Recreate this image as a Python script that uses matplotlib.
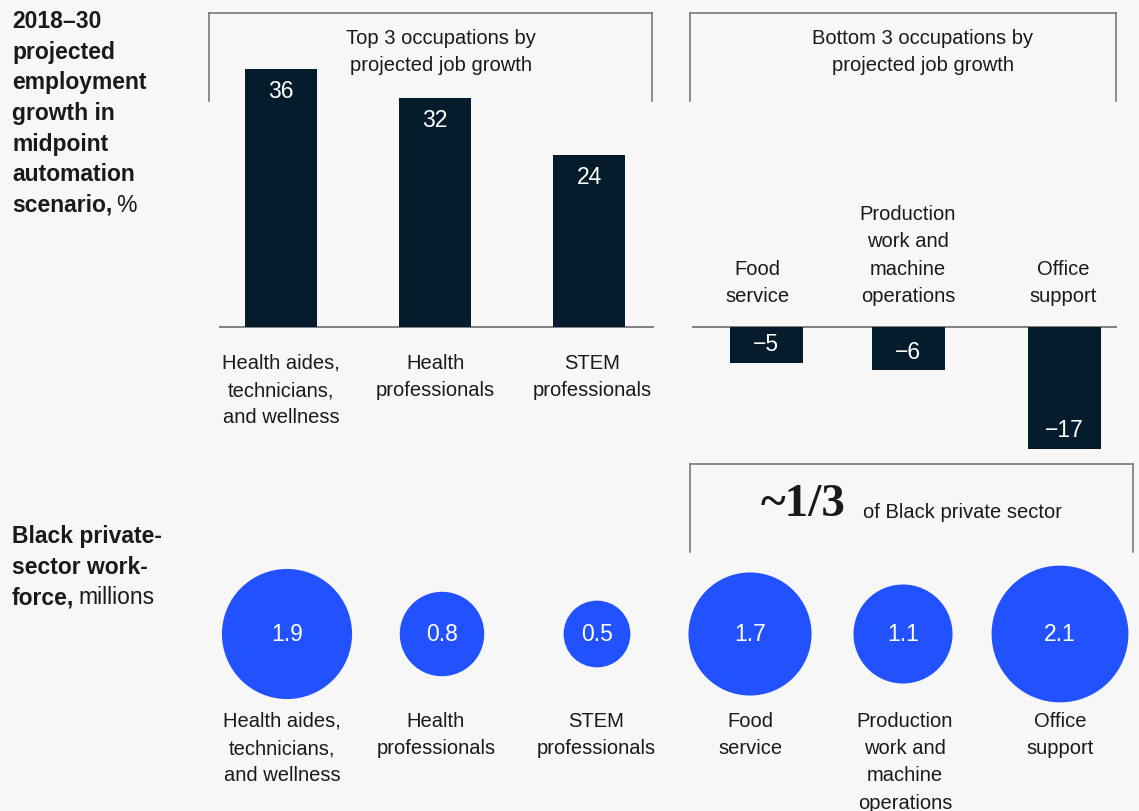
import matplotlib.pyplot as plt
from matplotlib.lines import Line2D

# growth 2018-30, %
top_cats = ['Health aides,\ntechnicians,\nand wellness', 'Health\nprofessionals', 'STEM\nprofessionals']
top_growth = [36, 32, 24]
bottom_cats = ['Food\nservice', 'Production\nwork and\nmachine\noperations', 'Office\nsupport']
bottom_growth = [-5, -6, -17]
# Black private-sector workforce, millions
all_cats = top_cats + bottom_cats
workforce = [1.9, 0.8, 0.5, 1.7, 1.1, 2.1]

W, H = 1139, 812
NAVY = '#051c2c'
BLUE = '#2251ff'
BG = '#f7f7f7'
TXT = '#1a1a1a'
GRID = '#6e6e6e'
LS = 1.55
FS = 14.5
NUM = 16.5

plt.rcParams['font.family'] = ['Liberation Sans', 'DejaVu Sans']

fig = plt.figure(figsize=(W / 100, H / 100), dpi=100, facecolor=BG)


def fx(x):
    return x / W


def fy(y):
    return 1 - y / H


def box(x0, y0, x1, y1):
    # open-bottom bracket
    for xs, ys in [([x0, x1], [y0, y0]), ([x0, x0], [y0, y1]), ([x1, x1], [y0, y1])]:
        fig.add_artist(Line2D([fx(v) for v in xs], [fy(v) for v in ys], color=GRID, lw=1.1))


# bar axes share one y scale: 7.17 px per point
PXU = 7.17
y_top, y_bot = 20, 460
zero_px = 328
ylim = (-(y_bot - zero_px) / PXU, (zero_px - y_top) / PXU)


def bar_axes(x0, x1):
    ax = fig.add_axes([fx(x0), fy(y_bot), (x1 - x0) / W, (y_bot - y_top) / H])
    ax.set_xlim(0, x1 - x0)
    ax.set_ylim(*ylim)
    ax.axis('off')
    ax.axhline(0, color=GRID, lw=1.2, zorder=1)
    return ax


ax1 = bar_axes(219, 654)
pos1 = [62, 216, 370]
lab1 = [62, 216, 373]
ax1.bar(pos1, top_growth, width=72, color=NAVY, zorder=2)
for x, lx, v, c in zip(pos1, lab1, top_growth, top_cats):
    ax1.text(x, v - 22 / PXU, f'{v}', color='white', ha='center', va='center', fontsize=NUM)
    ax1.text(lx, -26 / PXU, c, color=TXT, ha='center', va='top', fontsize=FS, linespacing=LS)

ax2 = bar_axes(692, 1117)
pos2 = [74, 216, 372]
lab2 = [65, 216, 371]
ax2.bar(pos2, bottom_growth, width=73, color=NAVY, zorder=2)
for x, lx, v, c in zip(pos2, lab2, bottom_growth, bottom_cats):
    ax2.text(x, v + 19 / PXU, f'\u2212{abs(v)}', color='white', ha='center', va='center', fontsize=NUM)
    ax2.text(lx, 22 / PXU, c, color=TXT, ha='center', va='bottom', fontsize=FS, linespacing=LS)

box(209, 14, 652, 102)
box(690, 14, 1116, 102)
fig.text(fx(441), fy(52), 'Top 3 occupations by\nprojected job growth', ha='center', va='center',
         fontsize=FS, color=TXT, linespacing=LS)
fig.text(fx(923), fy(52), 'Bottom 3 occupations by\nprojected job growth', ha='center', va='center',
         fontsize=FS, color=TXT, linespacing=LS)

# circles sized by area
ax3 = fig.add_axes([0, fy(710), 1, 150 / H])
ax3.set_xlim(0, W)
ax3.set_ylim(-1, 1)
ax3.axis('off')
pos3 = [287, 442, 597, 750, 903, 1060]
lab3 = [282, 436, 596, 750, 905, 1060]
ax3.scatter(pos3, [0] * 6, s=[4620 * v for v in workforce], color=BLUE, linewidths=0, zorder=2)
for x, v in zip(pos3, workforce):
    ax3.text(x, 0, f'{v}', color='white', ha='center', va='center', fontsize=NUM)
for x, c in zip(lab3, all_cats):
    fig.text(fx(x), fy(712), c, ha='center', va='top', fontsize=FS, color=TXT, linespacing=LS)

box(690, 465, 1133, 553)
fig.text(fx(803), fy(505), '~1/3', ha='center', va='center', fontsize=34, fontweight='bold',
         family='Liberation Serif', color=TXT)
fig.text(fx(863), fy(513), 'of Black private sector', ha='left', va='center', fontsize=FS, color=TXT)

# left headers, bold with a regular unit at the end
renderer = fig.canvas.get_renderer()


def header(lines, unit, y0, step=30.5):
    t = None
    for i, ln in enumerate(lines):
        t = fig.text(fx(12), fy(y0 + i * step), ln, ha='left', va='center', fontsize=16.5,
                     fontweight='bold', color=TXT)
    bb = t.get_window_extent(renderer)
    fig.text(bb.x1 / W + fx(4), fy(y0 + (len(lines) - 1) * step), unit, ha='left', va='center',
             fontsize=16.5, color=TXT)


header(['2018\u201330', 'projected', 'employment', 'growth in', 'midpoint', 'automation', 'scenario,'],
       '%', 22)
header(['Black private-', 'sector work-', 'force,'], 'millions', 537)

fig.savefig('out.png', dpi=100, facecolor=BG)
